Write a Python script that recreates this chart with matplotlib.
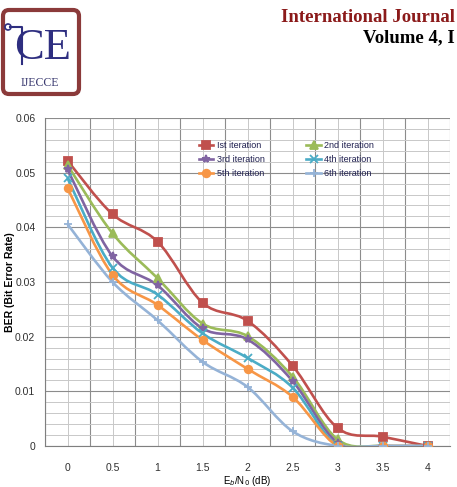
import matplotlib
matplotlib.use("Agg")
import matplotlib.pyplot as plt
from matplotlib.path import Path
from matplotlib.patches import PathPatch, FancyBboxPatch, Circle
import numpy as np

# x categories (Eb/N0 in dB) and BER
ebn0 = ["0", "0.5", "1", "1.5", "2", "2.5", "3", "3.5", "4"]
it1 = [0.0522, 0.0424, 0.0374, 0.0262, 0.0229, 0.0147, 0.0033, 0.0017, 0.0]
it2 = [0.0514, 0.0389, 0.0307, 0.0224, 0.0201, 0.0127, 0.0012, 0.0, 0.0]
it3 = [0.0506, 0.0347, 0.0294, 0.0215, 0.0195, 0.0119, 0.0006, 0.0, 0.0]
it4 = [0.0490, 0.0326, 0.0277, 0.0206, 0.0161, 0.0107, 0.0, 0.0, 0.0]
it5 = [0.0472, 0.0313, 0.0258, 0.0194, 0.0141, 0.0090, 0.0, 0.0, 0.0]
it6 = [0.0406, 0.0300, 0.0230, 0.0154, 0.0108, 0.0027, 0.0, 0.0, 0.0]
names = ["Ist iteration", "2nd iteration", "3rd iteration",
         "4th iteration", "5th iteration", "6th iteration"]

colors = ["#c0504d", "#9bbb59", "#8064a2", "#4bacc6", "#f79646", "#95b3d7"]
markers = ["s", "^", "*", "x", "o", "+"]

plt.rcParams['font.family'] = ['Liberation Sans Narrow', 'Liberation Sans', 'DejaVu Sans']


def smooth_path(xs, ys):
    # excel style smoothed line drawn as bezier segments
    pts = np.column_stack([xs, ys])
    verts = [pts[0]]
    codes = [Path.MOVETO]
    n = len(pts)
    for i in range(n - 1):
        p0 = pts[max(i - 1, 0)]
        p1 = pts[i]
        p2 = pts[i + 1]
        p3 = pts[min(i + 2, n - 1)]
        verts += [p1 + (p2 - p0) / 6.0, p2 - (p3 - p1) / 6.0, p2]
        codes += [Path.CURVE4] * 3
    return Path(verts, codes)


fig = plt.figure(figsize=(4.57, 4.87), dpi=100)

# ---- page header (logo + journal title) ----
hd = fig.add_axes([0, 0, 1, 1])
hd.set_xlim(0, 457)
hd.set_ylim(487, 0)
hd.axis('off')
box = FancyBboxPatch((3, 10), 76, 84, boxstyle="round,pad=0,rounding_size=6",
                     fc="white", ec="#8b3a3a", lw=3)
hd.add_patch(box)
hd.text(43, 48, "CE", fontsize=32, family="Liberation Serif", color="#2e2e80",
        ha="center", va="center")
hd.plot([10, 22, 22], [27, 27, 64], color="#2e2e80", lw=1.5)
hd.add_patch(Circle((8, 27), 3, fc="white", ec="#2e2e80", lw=1.2))
hd.text(40, 83, "IJECCE", fontsize=8.5, family="Liberation Serif", color="#3a3a70",
        ha="center", va="center")
hd.text(455, 17, "International Journal", fontsize=13.5, family="Liberation Serif",
        weight="bold", color="#8b1a1a", ha="right", va="center")
hd.text(455, 38, "Volume 4, I", fontsize=13.5, family="Liberation Serif",
        weight="bold", color="black", ha="right", va="center")

# ---- chart ----
ax = fig.add_axes([45 / 457, 41 / 487, 405 / 457, 328 / 487])
x = np.arange(len(ebn0))
series = [it1, it2, it3, it4, it5, it6]
for vals, c, m, lab in zip(series, colors, markers, names):
    ax.add_patch(PathPatch(smooth_path(x, vals), fc="none", ec=c, lw=1.9, zorder=3))
    ax.plot(x, vals, ls="none", marker=m, color=c, ms=5.5 if m != "*" else 6,
            mew=1.3, zorder=4)

ax.set_xlim(-0.5, len(ebn0) - 0.5)
ax.set_ylim(0, 0.06)
ax.set_xticks(x)
ax.set_xticklabels(ebn0)
ax.set_yticks(np.arange(0, 0.061, 0.01))
ax.set_yticklabels(["0", "0.01", "0.02", "0.03", "0.04", "0.05", "0.06"])
ax.set_yticks(np.arange(0, 0.0601, 0.002), minor=True)
ax.set_xticks(np.arange(-0.5, len(ebn0), 1.0), minor=True)
ax.tick_params(axis='both', which='both', length=0, labelsize=7.5, colors="#303030")
ax.tick_params(axis='y', pad=7)
ax.tick_params(axis='x', pad=12)
ax.grid(which='major', axis='y', color="#8c8c8c", lw=0.8)
ax.grid(which='minor', axis='y', color="#c8c8c8", lw=0.7)
ax.grid(which='major', axis='x', color="#c8c8c8", lw=0.7)
ax.grid(which='minor', axis='x', color="#8c8c8c", lw=0.8)
ax.set_axisbelow(True)
for s in ["top", "right"]:
    ax.spines[s].set_visible(False)
ax.spines["left"].set_color("#7f7f7f")
ax.spines["bottom"].set_color("#7f7f7f")

ax.set_ylabel("BER (Bit Error Rate)", fontsize=7.5, weight="bold")
ax.yaxis.set_label_coords(-0.075, 0.5)
ax.set_xlabel(r"E$_b$/N$_0$ (dB)", fontsize=7)
ax.xaxis.set_label_coords(0.5, -0.085)

handles = []
for c, m in zip(colors, markers):
    h, = ax.plot([], [], color=c, marker=m, lw=1.9, ms=5.5, mew=1.3)
    handles.append(h)
order = [0, 2, 4, 1, 3, 5]
ax.legend([handles[i] for i in order], [names[i] for i in order], ncol=2,
          frameon=False, fontsize=6.5, loc="upper left", bbox_to_anchor=(0.36, 0.955),
          handlelength=1.6, handletextpad=0.4, columnspacing=4.6, labelspacing=0.55,
          labelcolor="#1f1f4f")

fig.savefig("out.png", dpi=100)
